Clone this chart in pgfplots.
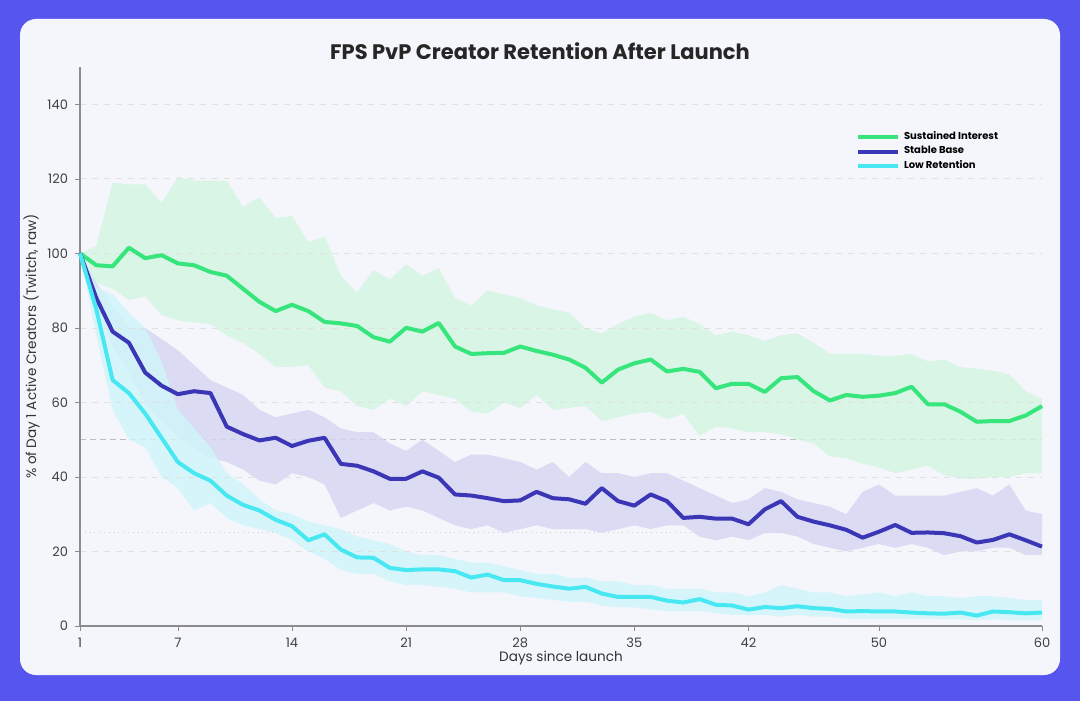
\documentclass[border=0pt]{standalone}
\usepackage{pgfplots}
\pgfplotsset{compat=1.18}
\usepackage{pgfplotstable}
\usepgfplotslibrary{fillbetween}
\usepackage{fontspec}
\setmainfont{Poppins}
\definecolor{border}{HTML}{5656EE}
\definecolor{panel}{HTML}{F4F6FC}
\definecolor{cgreen}{HTML}{36E57C}
\definecolor{cnavy}{HTML}{3A36B6}
\definecolor{ccyan}{HTML}{48E8F2}
\definecolor{bgreen}{HTML}{D2F5E0}
\definecolor{bnavy}{HTML}{D5D6F2}
\definecolor{bcyan}{HTML}{CFF5FA}
\pgfdeclarelayer{bg}
\pgfplotsset{layers/mylayers/.define layer set={bg,axis background,axis grid,axis ticks,axis lines,axis tick labels,pre main,main,axis descriptions,axis foreground}{}}
\pgfplotstableread{
d g gu gl s su sl l lu ll
1 100 100 100 100 100 100 100 100 100
2 96.8 102 92 88 92 86 85 91 78
3 96.5 119 90.5 79 86 75 66 89 58
4 101.5 118.5 87.5 76 80 68 62.5 84 50
5 98.7 118.5 88.5 68 80 60 57 80 48
6 99.5 113.5 83.5 64.5 77 55 50.5 71 40
7 97.3 120.5 82 62.2 74 51 44 58 37
8 96.8 119.5 81.5 63 70 48 41 53 31
9 95 119.5 81 62.5 66 45 39 48 33
10 94 119.5 78 53.5 64 44 35 41 29
11 90.5 112.5 76 51.5 62 42 32.5 38 27
12 87 115 73 49.8 58 39 31 34 26
13 84.5 109.5 69.5 50.5 56 38 28.5 31 25
14 86.2 110 69.5 48.3 57 41 26.8 30 23
15 84.5 103 70 49.7 58 40 23 28 20
16 81.6 104.5 64 50.5 56 38 24.6 27 18
17 81.2 94 63 43.5 53 29 20.5 26 15
18 80.5 89.5 59 43 52 31 18.4 24 14
19 77.5 95.5 58 41.5 52 33 18.3 23 14
20 76.3 93 61 39.5 49 31 15.6 22 12
21 80 97 59 39.5 47 32 15 20 11
22 79 94 63 41.5 50 31 15.2 19 11
23 81.3 96 62 39.8 47 29 15.2 19 10.5
24 75 88 61 35.3 44 27 14.7 18 10
25 73 86 57.5 35 46 26 13 17 9
26 73.2 90 57 34.3 46 27 13.8 17 9
27 73.3 89 60 33.5 45 25 12.3 16 9
28 75 88 58.5 33.7 44 26 12.3 15 8
29 73.8 86 62 36 42 27 11.3 14 7.5
30 72.8 85 58 34.3 44 26 10.6 14 7
31 71.5 84 58.5 34 40 26 10 13 6.5
32 69.3 80 59 32.8 44 26 10.5 13 6.5
33 65.3 78.5 55 37 41 25 8.7 12 5.5
34 68.8 81 56 33.5 41 26 7.8 12 5
35 70.5 83 57 32.3 40 27 7.8 11 5
36 71.5 84 57.5 35.3 41 26 7.8 11 4.5
37 68.3 82 55.5 33.5 41 27 6.8 10 4
38 69 83 57 29 39 27 6.3 10 4
39 68.2 81 51 29.3 37 24 7.2 10 4
40 63.8 78 53.5 28.8 35 23 5.7 9 3.5
41 65 79 53 28.8 33 24 5.5 9 3
42 65 78 52 27.3 34 23 4.4 8 3
43 62.8 76.5 52 31.3 37 25 5.1 9 3
44 66.5 78 51.5 33.5 36 25 4.8 11 2.5
45 66.8 78.5 50 29.3 34 24 5.3 10 3
46 63 76 49 28 33 22 4.8 9 2.5
47 60.5 73 45.5 27 32 21 4.6 9 2.5
48 62 73 45 25.8 30 20 3.9 8 2
49 61.5 73 43.5 23.7 36 21 4 8.5 2
50 61.8 72.5 42.5 25.3 38 22 3.9 9 2
51 62.5 72.5 41 27.1 35 21 3.9 8 2
52 64.2 73 42 25 35 22 3.6 9 2
53 59.5 71 43 25.1 35 21 3.4 8 2
54 59.5 71.5 40.5 24.9 35 19 3.3 8 1.8
55 57.5 69.5 39.5 24.1 36 20 3.6 7.5 1.8
56 54.8 69 39.5 22.4 37 20 2.8 8 1.5
57 55 68.5 40 23.1 35 21 3.9 8 1.8
58 55 67.5 40 24.6 38 21 3.7 7.5 1.5
59 56.5 63 41 23 31 19 3.4 7 1.5
60 59 61 41 21.3 30 19 3.6 7 1.5
}\data
\begin{document}
\begin{tikzpicture}
\begin{axis}[at={(40pt,37.5pt)},anchor=south west,scale only axis,
 width=481pt,height=279.5pt,set layers=mylayers,clip=false,
 xmin=1,xmax=60,ymin=0,ymax=150,
 xtick={1,7,14,21,28,35,42,50,60},ytick={0,20,...,140},
 axis lines=left,axis line style={-,black!45,line width=0.6pt},
 tick style={black!45},tick align=outside,major tick length=2.5pt,
 ymajorgrids,grid style={black!12,dashed,line width=0.3pt},
 ticklabel style={font=\fontsize{6.5}{7}\selectfont,text=black!75},
 /pgf/number format/assume math mode=true,
 xlabel={Days since launch},ylabel={\% of Day 1 Active Creators (Twitch, raw)},
 label style={font=\fontsize{6.8}{8}\selectfont,text=black!80},
 xlabel style={yshift=5pt},ylabel style={yshift=-3pt},
 legend style={at={(0.8,0.9)},anchor=north west,draw=none,fill=none,
  font=\bfseries\fontsize{5}{6}\selectfont,row sep=-2pt},
 legend cell align=left,
 legend image code/.code={\draw[#1,line width=2pt] (0pt,0pt) -- (20pt,0pt);}]
\begin{pgfonlayer}{bg}
\fill[border] (rel axis cs:-0.08316,-0.13417) rectangle (rel axis cs:1.03950,1.12970);
\fill[panel,rounded corners=8pt] (rel axis cs:-0.06237,-0.08766) rectangle (rel axis cs:1.01871,1.08587);
\end{pgfonlayer}
\node[font=\bfseries\fontsize{10.5}{12}\selectfont,text=black!85] at (rel axis cs:0.47817,1.02862) {FPS PvP Creator Retention After Launch};
\begin{pgfonlayer}{axis grid}
\draw[black!30,dashed,line width=0.4pt] (axis cs:1,100) -- (axis cs:60,100);
\draw[black!25,densely dashed,line width=0.4pt] (axis cs:1,50) -- (axis cs:60,50);
\draw[black!20,dotted,line width=0.4pt] (axis cs:1,25) -- (axis cs:60,25);
\end{pgfonlayer}
\addplot[draw=none,name path=gu,forget plot] table[x=d,y=gu]{\data};
\addplot[draw=none,name path=gl,forget plot] table[x=d,y=gl]{\data};
\addplot[bgreen,fill opacity=0.8,forget plot] fill between[of=gu and gl];
\addplot[draw=none,name path=su,forget plot] table[x=d,y=su]{\data};
\addplot[draw=none,name path=sl,forget plot] table[x=d,y=sl]{\data};
\addplot[bnavy,fill opacity=0.8,forget plot] fill between[of=su and sl];
\addplot[draw=none,name path=lu,forget plot] table[x=d,y=lu]{\data};
\addplot[draw=none,name path=ll,forget plot] table[x=d,y=ll]{\data};
\addplot[bcyan,fill opacity=0.8,forget plot] fill between[of=lu and ll];
\addplot[cgreen,line width=2pt,line join=round] table[x=d,y=g]{\data};
\addplot[cnavy,line width=2pt,line join=round] table[x=d,y=s]{\data};
\addplot[ccyan,line width=2pt,line join=round] table[x=d,y=l]{\data};
\legend{Sustained Interest,Stable Base,Low Retention}
\end{axis}
\pgfresetboundingbox
\useasboundingbox (0,0) rectangle (540pt,350.5pt);
\end{tikzpicture}
\end{document}
